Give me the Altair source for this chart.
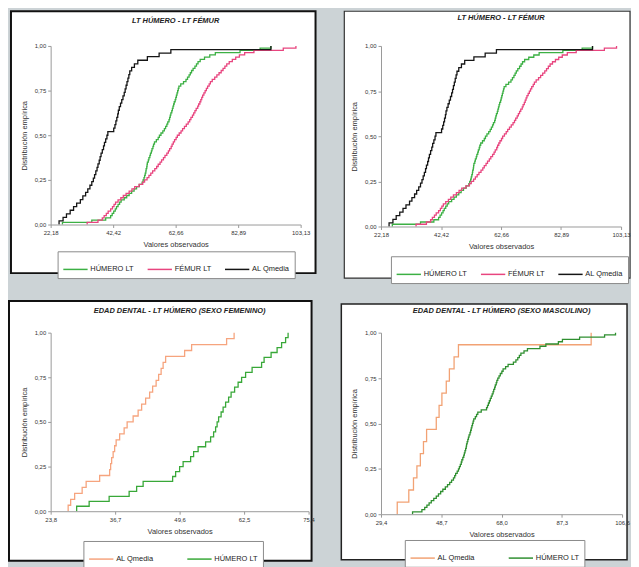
import altair as alt
import pandas as pd

# ---------------- data ----------------
TITLES = [
    "LT HÚMERO - LT FÉMUR",
    "LT HÚMERO - LT FÉMUR",
    "EDAD DENTAL - LT HÚMERO (SEXO FEMENINO)",
    "EDAD DENTAL  - LT HÚMERO (SEXO MASCULINO)",
]
X_TITLE = "Valores observados"
Y_TITLE = "Distribución empírica"

X_TICKS_TOP = [22.18, 42.42, 62.66, 82.89, 103.13]
X_TICKS_FEM = [23.8, 36.7, 49.6, 62.5, 75.4]
X_TICKS_MAS = [29.4, 48.7, 68.0, 87.3, 106.6]
Y_TICKS = [0.0, 0.25, 0.5, 0.75, 1.0]

NAMES_TOP = ["HÚMERO LT", "FÉMUR LT", "AL Qmedia"]
NAMES_BOTTOM = ["AL Qmedia", "HÚMERO LT"]

# observed values (one entry per case)
AL_QMEDIA_TOP = [24.9, 26.2, 27.3, 28.5, 29.6, 30.6, 31.8, 32.6, 33.5, 34.2,
                 34.9, 35.5, 36.0, 36.4, 36.8, 37.2, 37.5, 37.9, 38.2, 38.5,
                 38.9, 39.3, 39.6, 40.0, 40.4, 40.7, 42.6, 43.0, 43.3, 43.6,
                 43.9, 44.1, 44.4, 44.8, 45.2, 45.6, 46.0, 46.3, 46.6, 46.9,
                 47.2, 47.5, 47.8, 48.4, 49.3, 50.4, 53.5, 57.3, 61.1, 93.5]
HUMERO_TOP = [26.0, 35.5, 40.0, 41.6, 42.1, 42.6, 43.1, 43.5, 44.0, 44.5,
              45.0, 46.0, 46.8, 47.6, 48.4, 49.2, 50.0, 50.9, 51.8, 52.1,
              52.4, 52.6, 52.8, 53.0, 53.1, 53.3, 53.4, 53.5, 53.8, 54.0,
              54.3, 54.5, 54.8, 55.0, 55.3, 55.5, 55.8, 56.4, 57.0, 57.4,
              57.9, 58.5, 59.0, 59.4, 59.8, 60.1, 60.5, 60.7, 60.9, 61.1,
              61.4, 61.6, 61.8, 62.0, 62.2, 62.5, 62.7, 62.9, 63.1, 63.3,
              63.5, 63.7, 64.3, 65.2, 66.0, 66.5, 67.0, 67.4, 67.8, 68.3,
              68.9, 69.4, 69.9, 70.6, 72.0, 73.7, 75.5, 83.5, 90.0, 93.5]
FEMUR_TOP = [34.0, 37.5, 38.9, 39.5, 40.2, 40.8, 41.6, 42.2, 42.7, 43.2,
             44.0, 44.9, 45.7, 46.6, 47.6, 48.5, 49.4, 50.8, 52.0, 52.6,
             53.4, 54.0, 54.6, 55.2, 55.9, 56.5, 57.0, 57.6, 58.1, 58.7,
             59.2, 59.8, 60.3, 60.7, 61.2, 61.5, 61.9, 62.3, 62.8, 63.2,
             63.8, 64.4, 64.9, 65.5, 66.1, 66.7, 67.2, 67.6, 68.1, 68.5,
             68.9, 69.3, 69.8, 70.1, 70.5, 70.8, 71.1, 71.4, 71.8, 72.2,
             72.6, 73.0, 73.5, 73.9, 74.5, 75.3, 76.0, 76.7, 77.4, 78.0,
             78.6, 79.2, 80.0, 81.0, 82.1, 83.3, 85.0, 88.0, 97.5, 101.6]
AL_QMEDIA_FEM = [27.3, 27.8, 28.6, 30.1, 30.9, 33.6, 35.6, 35.8, 36.0, 36.3,
                 36.6, 36.9, 37.6, 38.5, 39.1, 40.3, 41.3, 42.0, 42.8, 43.6,
                 44.2, 44.9, 45.4, 45.9, 46.3, 46.8, 50.6, 52.0, 59.0, 60.5]
HUMERO_FEM = [29.0, 31.5, 35.5, 39.5, 41.0, 42.3, 48.2, 48.8, 49.6, 50.3,
              51.8, 52.4, 53.3, 54.8, 55.8, 56.4, 56.8, 57.1, 57.4, 57.9,
              58.3, 58.8, 59.4, 59.9, 60.6, 61.3, 62.0, 62.8, 64.1, 66.0,
              66.5, 67.9, 69.1, 70.0, 70.8, 71.3]
AL_QMEDIA_MAS = [34.6, 38.3, 39.8, 40.9, 42.0, 43.0, 44.0, 47.1, 48.0, 48.9,
                 50.3, 51.3, 52.8, 54.2, 96.7]
HUMERO_MAS = [39.5, 42.5, 43.4, 44.1, 44.8, 45.5, 46.3, 47.1, 47.8, 48.5,
              49.2, 50.0, 50.7, 51.4, 52.0, 52.6, 53.0, 53.3, 53.8, 54.2,
              54.5, 54.8, 55.1, 55.3, 55.6, 55.9, 56.1, 56.3, 56.5, 56.7,
              56.8, 57.0, 57.2, 57.4, 57.6, 57.9, 58.1, 58.3, 58.5, 58.7,
              58.9, 59.1, 59.6, 60.0, 60.4, 61.5, 63.2, 63.5, 63.8, 64.1,
              64.4, 64.7, 65.0, 65.3, 65.5, 65.8, 66.0, 66.3, 66.5, 66.8,
              67.2, 67.6, 68.1, 68.5, 69.3, 70.1, 71.8, 72.6, 73.2, 73.7,
              74.2, 75.2, 76.3, 80.3, 82.2, 86.2, 87.5, 93.0, 101.0, 104.5]

COLORS_TOP = ["#3cb044", "#e8457f", "#151515"]
COLORS_FEM = ["#f6a47e", "#38a838"]
COLORS_MAS = ["#f2a274", "#2f8f30"]

FONT = "Liberation Sans"
BG = "#ccd3d6"


def ecdf_rows(values, name):
    v = sorted(values)
    n = len(v)
    rows = [{"value": v[0], "cdf": 0.0, "series": name, "ord": 0}]
    for i, x in enumerate(v):
        rows.append({"value": x, "cdf": (i + 1) / n, "series": name, "ord": i + 1})
    return rows


def axis(title, values, expr, pad):
    return alt.Axis(values=values, labelExpr=expr, title=title, titlePadding=pad,
                    zindex=2, grid=False, labelFont=FONT, titleFont=FONT,
                    labelFontSize=6, titleFontSize=7.5, titleFontWeight="normal",
                    labelColor="#333", titleColor="#333", domainColor="#999",
                    tickColor="#999", tickSize=3, labelPadding=2, labelFlush=False)


def panel(series, names, colors, xticks, dec, title, w, h, L, T, R, B,
          title_dy, lx, ly, box_w, box_color, col_pad, extra_left=0, extra_top=0):
    rows = []
    for vals, nm in zip(series, names):
        rows += ecdf_rows(vals, nm)
    df = pd.DataFrame(rows)
    dummy = pd.DataFrame({"d": [0]})

    ghost = alt.Chart(dummy).mark_rect(fillOpacity=0, strokeOpacity=0).encode(
        x=alt.value(-L - extra_left), x2=alt.value(w + R),
        y=alt.value(-T - extra_top), y2=alt.value(h + B))
    box = alt.Chart(dummy).mark_rect(fill="white", stroke=box_color,
                                     strokeWidth=box_w).encode(
        x=alt.value(-L), x2=alt.value(w + R),
        y=alt.value(-T), y2=alt.value(h + B))
    ttl = alt.Chart(dummy).mark_text(font=FONT, fontSize=7.5, fontStyle="italic",
                                     fontWeight="bold", color="#222",
                                     baseline="middle", align="center").encode(
        x=alt.value(w / 2), y=alt.value(title_dy), text=alt.value(title))

    xlab = "replace(format(datum.value, '.%df'), '.', ',')" % dec
    ylab = "replace(format(datum.value, '.2f'), '.', ',')"
    lines = alt.Chart(df).mark_line(interpolate="step-after", strokeWidth=1.3).encode(
        x=alt.X("value:Q",
                scale=alt.Scale(domain=[xticks[0], xticks[-1]], nice=False, zero=False),
                axis=axis(X_TITLE, xticks, xlab, 5)),
        y=alt.Y("cdf:Q", scale=alt.Scale(domain=[0, 1], nice=False),
                axis=axis(Y_TITLE, Y_TICKS, ylab, 6)),
        color=alt.Color("series:N",
                        scale=alt.Scale(domain=names, range=colors),
                        legend=alt.Legend(orient="none", legendX=lx, legendY=ly,
                                          direction="horizontal", title=None,
                                          strokeColor="#8a8a8a", fillColor="white",
                                          padding=5, symbolType="stroke",
                                          symbolSize=600, symbolStrokeWidth=1.5,
                                          labelFont=FONT, labelFontSize=7.5,
                                          labelColor="#222", labelOffset=2,
                                          columnPadding=col_pad, zindex=2)),
        order=alt.Order("ord:Q"),
    )
    return alt.layer(ghost, box, ttl, lines).properties(width=w, height=h)


p1 = panel([HUMERO_TOP, FEMUR_TOP, AL_QMEDIA_TOP], NAMES_TOP, COLORS_TOP,
           X_TICKS_TOP, 2, TITLES[0], 252, 180, 40, 35, 15, 49,
           -25, 7, 207, 2, "#111", 10)
p2 = panel([HUMERO_TOP, FEMUR_TOP, AL_QMEDIA_TOP], NAMES_TOP, COLORS_TOP,
           X_TICKS_TOP, 2, TITLES[1], 242, 182, 37, 35, 9, 52,
           -28, 10, 212, 1.2, "#333", 10)
p3 = panel([AL_QMEDIA_FEM, HUMERO_FEM], NAMES_BOTTOM, COLORS_FEM,
           X_TICKS_FEM, 1, TITLES[2], 260, 180, 42, 32, 3, 50,
           -22, 33, 210, 2, "#111", 30)
p4 = panel([AL_QMEDIA_MAS, HUMERO_MAS], NAMES_BOTTOM, COLORS_MAS,
           X_TICKS_MAS, 1, TITLES[3], 243, 183, 40, 29, 5, 46,
           -22, 24, 209, 1.5, "#222", 30, extra_top=6)

chart = alt.concat(p1, p2, p3, p4, columns=2, align="each",
                   spacing={"row": 14, "column": 24}).resolve_scale(
    x="independent", y="independent", color="independent"
).resolve_legend(color="independent").properties(
    padding=0, background=BG
).configure_view(strokeWidth=0)

chart.save("out.html", embed_options={"renderer": "svg", "actions": False})
